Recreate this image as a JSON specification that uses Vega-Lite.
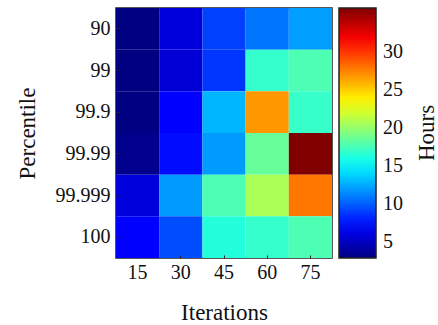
{
  "$schema": "https://vega.github.io/schema/vega-lite/v6.json",
  "autosize": "none",
  "width": 216,
  "height": 250,
  "padding": {"left": 116, "top": 8, "right": 106, "bottom": 67},
  "background": "white",
  "config": {
    "font": "Liberation Serif",
    "view": {"stroke": "#222", "strokeWidth": 1.5},
    "axis": {"labelFont": "Liberation Serif", "titleFont": "Liberation Serif", "labelFontSize": 20, "titleFontSize": 23, "titleFontWeight": "normal", "labelColor": "#111", "titleColor": "#111", "domain": false, "tickColor": "#222", "tickSize": -3, "labelPadding": 9},
    "legend": {"labelFont": "Liberation Serif", "titleFont": "Liberation Serif", "labelFontSize": 20, "titleFontSize": 23, "titleFontWeight": "normal", "labelColor": "#111", "titleColor": "#111"}
  },
  "data": {"values": [
    {"Percentile": "90", "Iterations": "15", "Hours": 3.0},
    {"Percentile": "90", "Iterations": "30", "Hours": 5.9},
    {"Percentile": "90", "Iterations": "45", "Hours": 9.1},
    {"Percentile": "90", "Iterations": "60", "Hours": 10.8},
    {"Percentile": "90", "Iterations": "75", "Hours": 12.1},
    {"Percentile": "99", "Iterations": "15", "Hours": 2.9},
    {"Percentile": "99", "Iterations": "30", "Hours": 5.7},
    {"Percentile": "99", "Iterations": "45", "Hours": 8.7},
    {"Percentile": "99", "Iterations": "60", "Hours": 16.9},
    {"Percentile": "99", "Iterations": "75", "Hours": 17.7},
    {"Percentile": "99.9", "Iterations": "15", "Hours": 3.0},
    {"Percentile": "99.9", "Iterations": "30", "Hours": 7.0},
    {"Percentile": "99.9", "Iterations": "45", "Hours": 12.9},
    {"Percentile": "99.9", "Iterations": "60", "Hours": 26.8},
    {"Percentile": "99.9", "Iterations": "75", "Hours": 17.0},
    {"Percentile": "99.99", "Iterations": "15", "Hours": 3.3},
    {"Percentile": "99.99", "Iterations": "30", "Hours": 7.4},
    {"Percentile": "99.99", "Iterations": "45", "Hours": 12.0},
    {"Percentile": "99.99", "Iterations": "60", "Hours": 18.5},
    {"Percentile": "99.99", "Iterations": "75", "Hours": 35.8},
    {"Percentile": "99.999", "Iterations": "15", "Hours": 5.9},
    {"Percentile": "99.999", "Iterations": "30", "Hours": 12.0},
    {"Percentile": "99.999", "Iterations": "45", "Hours": 17.7},
    {"Percentile": "99.999", "Iterations": "60", "Hours": 20.7},
    {"Percentile": "99.999", "Iterations": "75", "Hours": 27.9},
    {"Percentile": "100", "Iterations": "15", "Hours": 7.0},
    {"Percentile": "100", "Iterations": "30", "Hours": 9.5},
    {"Percentile": "100", "Iterations": "45", "Hours": 16.4},
    {"Percentile": "100", "Iterations": "60", "Hours": 16.9},
    {"Percentile": "100", "Iterations": "75", "Hours": 17.7}
  ]},
  "mark": {"type": "rect"},
  "encoding": {
    "x": {"field": "Iterations", "type": "ordinal", "sort": ["15", "30", "45", "60", "75"], "scale": {"paddingInner": 0, "paddingOuter": 0}, "axis": {"labelAngle": 0, "title": "Iterations", "titlePadding": 19, "labelPadding": 7}},
    "y": {"field": "Percentile", "type": "ordinal", "sort": ["90", "99", "99.9", "99.99", "99.999", "100"], "scale": {"paddingInner": 0, "paddingOuter": 0}, "axis": {"title": "Percentile", "titlePadding": 16}},
    "color": {"field": "Hours", "type": "quantitative",
      "scale": {"domain": [2.9, 35.8], "range": ["#000080", "#0000ff", "#0080ff", "#00ffff", "#80ff80", "#ffff00", "#ff8000", "#ff0000", "#800000"], "interpolate": "rgb"},
      "legend": {"title": "Hours", "titleOrient": "right", "titleAnchor": "middle", "titlePadding": 36, "gradientLength": 250, "gradientThickness": 37, "gradientStrokeColor": "#222", "gradientStrokeWidth": 1.5, "offset": 7, "values": [5, 10, 15, 20, 25, 30], "labelOffset": 7, "padding": 0,
        "encode": {"title": {"update": {"angle": {"value": -90}}}}}
    }
  }
}
